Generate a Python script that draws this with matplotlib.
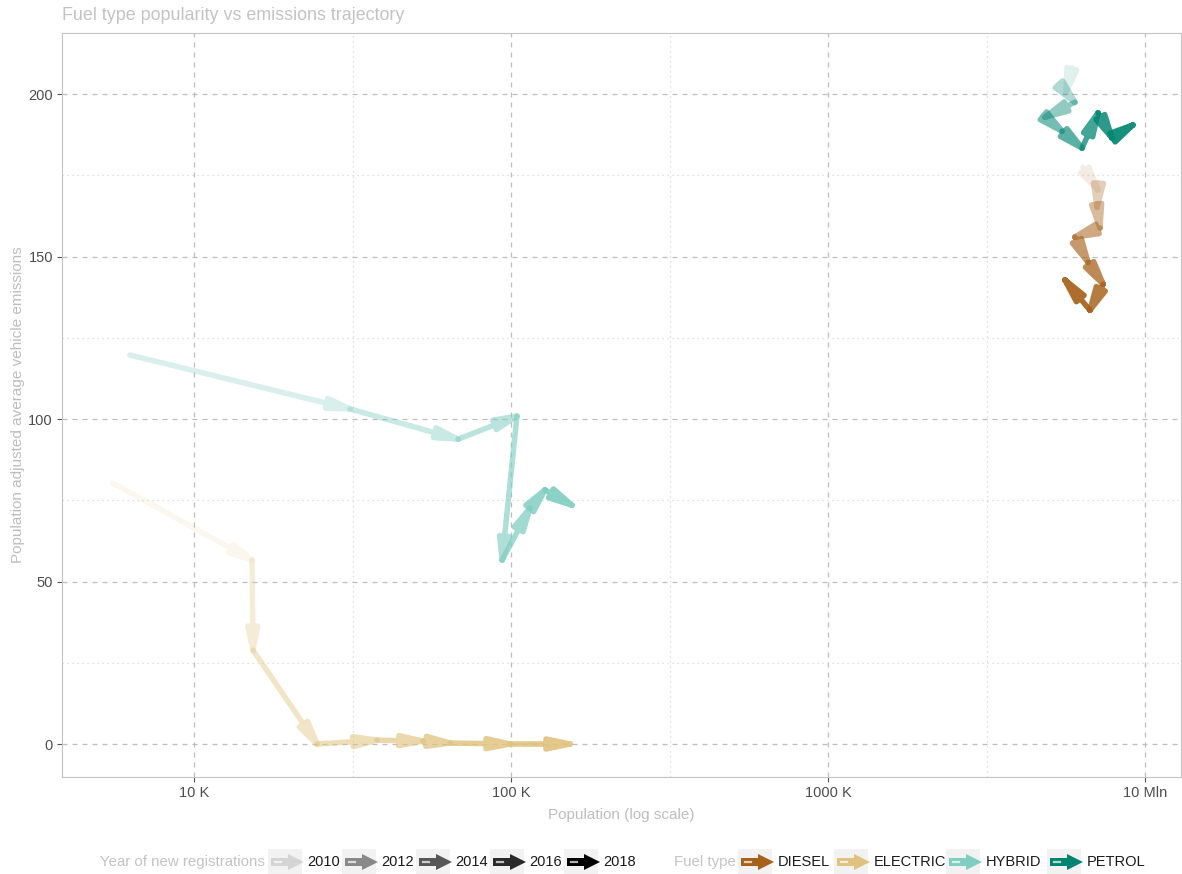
import numpy as np
import matplotlib
matplotlib.use("Agg")
import matplotlib.pyplot as plt
from matplotlib.patches import Polygon, Rectangle
from matplotlib.ticker import FixedLocator, NullFormatter
from matplotlib.lines import Line2D

plt.rcParams['font.family'] = ['Liberation Sans', 'DejaVu Sans']

# ---- data -------------------------------------------------------------
fuel_types = ["DIESEL", "ELECTRIC", "HYBRID", "PETROL"]
fuel_colours = ["#A6611A", "#DFC27D", "#80CDC1", "#018571"]

diesel_years = [2010, 2011, 2012, 2013, 2014, 2015, 2016, 2017, 2018]
diesel_pop = [6.37e6, 7.11e6, 7.06e6, 7.21e6, 6.01e6, 6.61e6, 7.38e6, 6.70e6, 5.59e6]
diesel_emis = [177.5, 170.5, 165.2, 158.8, 156.0, 148.3, 141.5, 133.5, 142.8]

electric_years = [2010, 2011, 2012, 2013, 2014, 2015, 2016, 2017, 2018]
electric_pop = [5550, 15240, 15350, 24440, 37760, 52720, 64240, 99300, 153500]
electric_emis = [80.3, 56.6, 28.9, 0.0, 1.2, 0.9, 0.3, 0.0, 0.0]

hybrid_years = [2011, 2012, 2013, 2014, 2015, 2016, 2017, 2018]
hybrid_pop = [6281, 31050, 68070, 104400, 93760, 114800, 128000, 155600]
hybrid_emis = [119.7, 103.1, 93.8, 100.9, 56.6, 72.6, 78.2, 73.5]

petrol_years = [2010, 2011, 2012, 2013, 2014, 2015, 2016, 2017, 2018]
petrol_pop = [5.89e6, 5.63e6, 6.01e6, 4.84e6, 5.47e6, 6.33e6, 7.11e6, 7.87e6, 9.16e6]
petrol_emis = [208.0, 200.6, 197.5, 192.9, 188.6, 183.4, 194.2, 186.5, 190.5]

x_breaks = [1e4, 1e5, 1e6, 1e7]
x_labels = ["10 K", "100 K", "1000 K", "10 Mln"]
x_minor = [10 ** 4.5, 10 ** 5.5, 10 ** 6.5]
y_breaks = [0, 50, 100, 150, 200]
y_minor = [25, 75, 125, 175]
legend_years = [2010, 2012, 2014, 2016, 2018]

series = [
    (diesel_years, diesel_pop, diesel_emis),
    (electric_years, electric_pop, electric_emis),
    (hybrid_years, hybrid_pop, hybrid_emis),
    (petrol_years, petrol_pop, petrol_emis),
]


def year_alpha(y):
    t = (y - 2010) / 8.0
    return 0.12 + 0.88 * t ** 0.75


# ---- figure -----------------------------------------------------------
W, H = 1182, 874
fig = plt.figure(figsize=(W / 100, H / 100), dpi=100)
ax = fig.add_axes([62 / W, 1 - 777 / H, (1181 - 62) / W, (777 - 33) / H])
ax.set_xscale('log')
ax.set_xlim(10 ** (4 + (62 - 194) / 317), 10 ** (4 + (1181 - 194) / 317))
ax.set_ylim(-10.15, 218.8)

ax.xaxis.set_major_locator(FixedLocator(x_breaks))
ax.set_xticklabels(x_labels)
ax.xaxis.set_minor_locator(FixedLocator(x_minor))
ax.xaxis.set_minor_formatter(NullFormatter())
ax.yaxis.set_major_locator(FixedLocator(y_breaks))
ax.yaxis.set_minor_locator(FixedLocator(y_minor))

ax.grid(which='major', color='#BDBDBD', linestyle=(0, (4, 4)), linewidth=0.9)
ax.grid(which='minor', color='#D6D6D6', linestyle=(0, (1, 3)), linewidth=0.9)
ax.set_axisbelow(True)
for s in ax.spines.values():
    s.set_color('#C4C4C4')
    s.set_linewidth(0.8)
ax.tick_params(which='major', length=3.5, width=0.8, color='#555555',
               labelsize=10.5, labelcolor='#4D4D4D', pad=3)
ax.tick_params(which='minor', length=0)

LW_PX = 5.5
LW_PT = LW_PX * 72 / 100
HEAD_LEN = 24      # arrow head length in pixels (fixed, like grid::arrow)
HEAD_HALF = 5.0    # half the head's base width in pixels


def draw_arrow(p0, p1, colour, alpha):
    """Stroke shaft and closed head as one path so the alpha stays uniform."""
    tr = ax.transData
    a = tr.transform(p0)
    b = tr.transform(p1)
    d = b - a
    L = np.hypot(*d)
    if L < 1e-6:
        return
    u = d / L
    n = np.array([-u[1], u[0]])
    base = b - u * HEAD_LEN
    pts = np.array([a, b, base + n * HEAD_HALF, base - n * HEAD_HALF, b,
                    base, b])
    data_pts = tr.inverted().transform(pts)
    ax.add_line(Line2D(data_pts[:, 0], data_pts[:, 1], color=colour, alpha=alpha,
                       linewidth=LW_PT, solid_capstyle='round',
                       solid_joinstyle='round'))


for (yrs, xs, ys), col in zip(series, fuel_colours):
    for i in range(len(xs) - 1):
        draw_arrow((xs[i], ys[i]), (xs[i + 1], ys[i + 1]), col, year_alpha(yrs[i]))

# ---- text -------------------------------------------------------------
fig.text(62 / W, 1 - 15 / H, "Fuel type popularity vs emissions trajectory",
         color='#C3C3C3', fontsize=12.9, ha='left', va='center')
fig.text(621.5 / W, 1 - 815 / H, "Population (log scale)", color='#BDBDBD',
         fontsize=11, ha='center', va='center')
fig.text(18 / W, 1 - 405 / H, "Population adjusted average vehicle emissions",
         color='#BDBDBD', fontsize=11, ha='center', va='center', rotation=90)

# ---- legend -----------------------------------------------------------
leg_y = 862
key_w, key_h = 34, 26


def fpt(px, py):
    return [px / W, 1 - py / H]


def legend_key(x0, colour, alpha):
    fig.patches.append(Rectangle(fpt(x0, leg_y + key_h / 2), key_w / W, key_h / H,
                                 transform=fig.transFigure, facecolor='#F2F2F2',
                                 edgecolor='none', zorder=1))
    sh, hh = 4.0, 8.0
    x1, xb, xt = x0 + 3, x0 + 20, x0 + 36
    shape = [fpt(x1, leg_y - sh), fpt(xb, leg_y - sh), fpt(xb, leg_y - hh),
             fpt(xt, leg_y), fpt(xb, leg_y + hh), fpt(xb, leg_y + sh), fpt(x1, leg_y + sh)]
    fig.patches.append(Polygon(shape, closed=True, transform=fig.transFigure,
                               facecolor=colour, edgecolor='none', alpha=alpha, zorder=2))
    fig.lines.append(Line2D([(x0 + 7) / W, (x0 + 13) / W], [1 - leg_y / H] * 2,
                            transform=fig.transFigure, color='white', alpha=0.7,
                            linewidth=1.6, zorder=3))


fig.text(265 / W, 1 - leg_y / H, "Year of new registrations", color='#C3C3C3',
         fontsize=10.8, ha='right', va='center')
year_key_x = [268, 342, 416, 490, 564]
for yr, kx in zip(legend_years, year_key_x):
    legend_key(kx, 'black', year_alpha(yr))
    fig.text((kx + key_w + 5) / W, 1 - leg_y / H, str(yr), color='#1A1A1A',
             fontsize=10.5, ha='left', va='center')

fig.text(736 / W, 1 - leg_y / H, "Fuel type", color='#C3C3C3',
         fontsize=10.8, ha='right', va='center')
fuel_key_x = [738, 834, 946, 1047]
for name, col, kx in zip(fuel_types, fuel_colours, fuel_key_x):
    legend_key(kx, col, 1.0)
    fig.text((kx + key_w + 6) / W, 1 - leg_y / H, name, color='#1A1A1A',
             fontsize=10.5, ha='left', va='center')

fig.savefig("out.png", dpi=100)
